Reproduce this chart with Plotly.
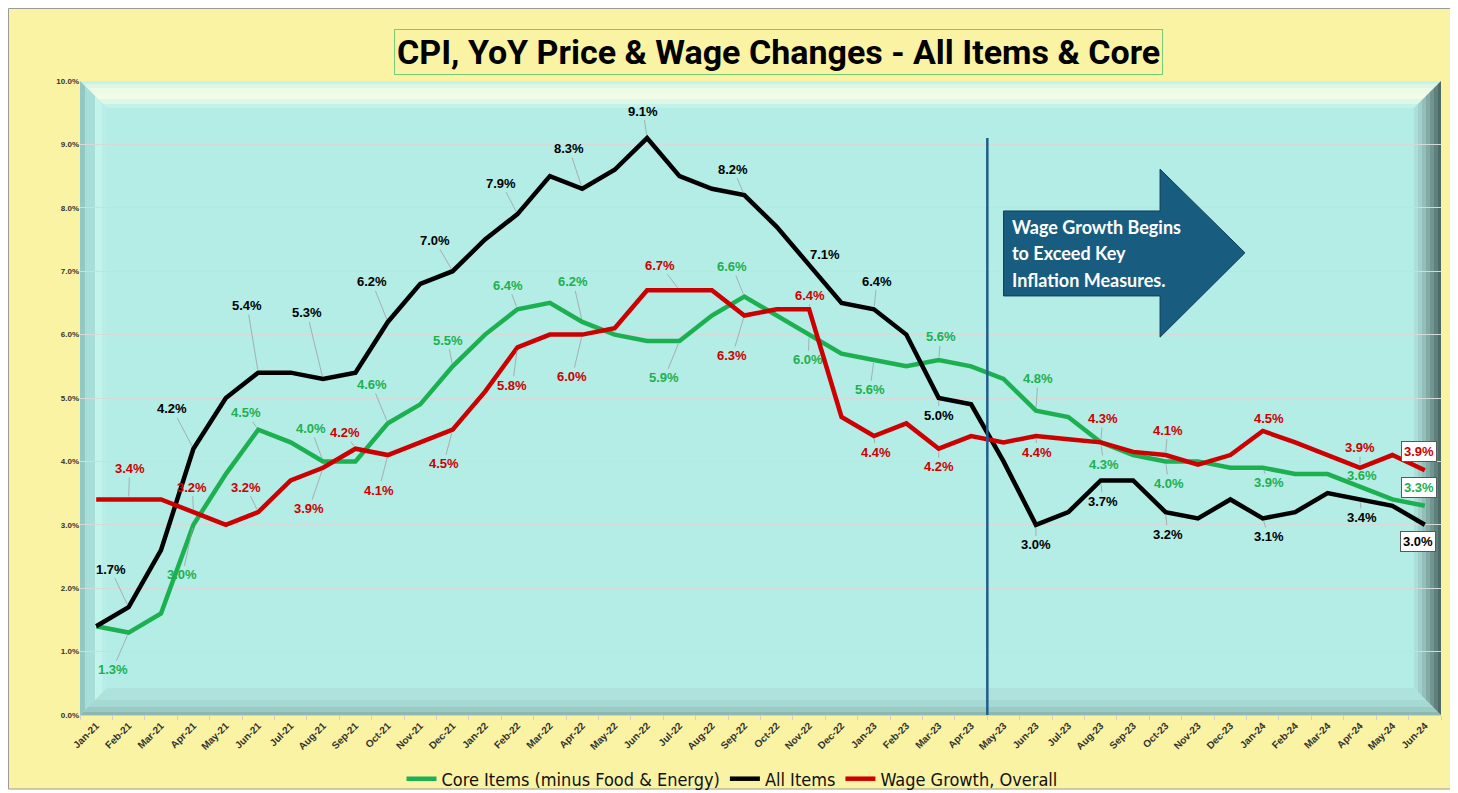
import plotly.graph_objects as go

# ---------------- data ----------------
months = ["Jan-21", "Feb-21", "Mar-21", "Apr-21", "May-21", "Jun-21", "Jul-21", "Aug-21", "Sep-21", "Oct-21", "Nov-21", "Dec-21",
          "Jan-22", "Feb-22", "Mar-22", "Apr-22", "May-22", "Jun-22", "Jul-22", "Aug-22", "Sep-22", "Oct-22", "Nov-22", "Dec-22",
          "Jan-23", "Feb-23", "Mar-23", "Apr-23", "May-23", "Jun-23", "Jul-23", "Aug-23", "Sep-23", "Oct-23", "Nov-23", "Dec-23",
          "Jan-24", "Feb-24", "Mar-24", "Apr-24", "May-24", "Jun-24"]

core_items = [1.4, 1.3, 1.6, 3.0, 3.8, 4.5, 4.3, 4.0, 4.0, 4.6, 4.9, 5.5,
              6.0, 6.4, 6.5, 6.2, 6.0, 5.9, 5.9, 6.3, 6.6, 6.3, 6.0, 5.7,
              5.6, 5.5, 5.6, 5.5, 5.3, 4.8, 4.7, 4.3, 4.1, 4.0, 4.0, 3.9,
              3.9, 3.8, 3.8, 3.6, 3.4, 3.3]

all_items = [1.4, 1.7, 2.6, 4.2, 5.0, 5.4, 5.4, 5.3, 5.4, 6.2, 6.8, 7.0,
             7.5, 7.9, 8.5, 8.3, 8.6, 9.1, 8.5, 8.3, 8.2, 7.7, 7.1, 6.5,
             6.4, 6.0, 5.0, 4.9, 4.0, 3.0, 3.2, 3.7, 3.7, 3.2, 3.1, 3.4,
             3.1, 3.2, 3.5, 3.4, 3.3, 3.0]

wage_growth = [3.4, 3.4, 3.4, 3.2, 3.0, 3.2, 3.7, 3.9, 4.2, 4.1, 4.3, 4.5,
               5.1, 5.8, 6.0, 6.0, 6.1, 6.7, 6.7, 6.7, 6.3, 6.4, 6.4, 4.7,
               4.4, 4.6, 4.2, 4.4, 4.3, 4.4, 4.35, 4.3, 4.15, 4.1, 3.95, 4.1,
               4.48, 4.3, 4.1, 3.9, 4.1, 3.86]

series_names = ["Core Items (minus Food & Energy)", "All Items", "Wage Growth, Overall"]
title_text = "CPI, YoY Price & Wage Changes - All Items & Core"
arrow_lines = ["Wage Growth Begins", "to Exceed Key", "Inflation Measures."]
y_ticks = [0, 1, 2, 3, 4, 5, 6, 7, 8, 9, 10]

# ---------------- styling / label placement ----------------
GREEN = "#1DB050"
BLACK = "#000000"
RED = "#CC0000"
YELLOW = "#FAF3A4"
TEAL = "#B4ECE6"

# (month index, label dx px, label dy px)
label_pos = {
    "core": [(1, -16, 37), (3, -11, 50), (5, -12, -17), (7, -12, -33), (9, -16, -39), (11, -5, -26),
             (13, -9, -24), (15, -9, -40), (18, -15, 37), (20, -12, -30), (22, -1, 25), (24, -4, 30),
             (26, 2, -23), (29, 2, -32), (31, 3, 22), (33, 3, 22), (36, 6, 15), (39, 2, -11)],
    "all": [(1, -18, -38), (3, -21, -40), (5, -11, -67), (7, -16, -66), (9, -16, -40), (11, -18, -31),
            (13, -16, -31), (15, -13, -40), (17, -4, -27), (20, -11, -26), (22, 16, -10), (24, 3, -28),
            (26, 0, 17), (29, 0, 20), (31, 2, 21), (33, 2, 22), (36, 6, 18), (39, 2, 18)],
    "wage": [(1, 1, -31), (3, -1, -25), (5, -12, -25), (7, -14, 41), (8, -10, -16), (9, -9, 35),
             (11, -9, 34), (13, -5, 38), (15, -10, 42), (18, -19, -25), (20, -12, 40), (22, 1, -14),
             (24, 2, 16), (26, 0, 18), (29, 1, 16), (31, 2, -24), (33, 2, -25), (36, 6, -12), (39, 0, -20)],
}
end_label_pos = {"core": (-6, -18), "all": (-7, 17), "wage": (-6, -19)}

# The page body adds an 8 px offset; screen-space geometry (as in the reference) below.
OFF = 8
W, H = 1458 - OFF, 793 - OFF
SL, SR, ST, SB = 80, 1441, 81, 715   # plot area on screen


def px(x):
    return (x - SL) / (SR - SL)


def py(y):
    return (SB - y) / (SB - ST)


def poly(pts):
    return "M " + " L ".join(f"{px(a):.5f},{py(b):.5f}" for a, b in pts) + " Z"


fig = go.Figure()

series = [("core", series_names[0], core_items, GREEN),
          ("all", series_names[1], all_items, BLACK),
          ("wage", series_names[2], wage_growth, RED)]

for key, name, vals, col in series:
    fig.add_trace(go.Scatter(x=months, y=vals, name=name, mode="lines",
                             line=dict(color=col, width=4.5),
                             hovertemplate="%{x}: %{y:.1f}%<extra>" + name + "</extra>"))

shapes = []
# page background with frame
shapes.append(dict(type="rect", xref="paper", yref="paper", x0=px(8.5), x1=px(1453), y0=py(789), y1=py(8.5),
                   fillcolor=YELLOW, line=dict(color="#9A9A9A", width=1), layer="below"))
# plot background
shapes.append(dict(type="rect", xref="paper", yref="paper", x0=0, x1=1, y0=0, y1=1,
                   fillcolor=TEAL, line=dict(width=0), layer="below"))

# bevel stripes (depth from edge in px)
top_band = [(0, 3, "#C9F2E4"), (3, 7, "#DDF7E7"), (7, 12, "#EDFAE6"), (12, 18, "#F2FBE6"),
            (18, 23, "#DDF7E9"), (23, 27, "#C4F1E8")]
left_band = [(0, 5, "#92C8C3"), (5, 15, "#A8DED8"), (15, 22, "#C3F4EB"), (22, 27, "#B8EEE7")]
bottom_band = [(0, 3, "#8DB7B2"), (3, 8, "#9BCAC5"), (8, 15, "#A6D9D3"), (15, 27, "#AEE3DD")]
right_band = [(0, 3, "#4D6A67"), (3, 7, "#5F807D"), (7, 11, "#71958F"), (11, 15, "#83AAA5"),
              (15, 19, "#93BEB9"), (19, 23, "#A1D0CA"), (23, 27, "#ABDFD9")]

for d0, d1, c in top_band:
    shapes.append(dict(type="path", xref="paper", yref="paper", layer="below", fillcolor=c, line=dict(width=0),
                       path=poly([(SL + d0, ST + d0), (SR - d0, ST + d0), (SR - d1, ST + d1), (SL + d1, ST + d1)])))
for d0, d1, c in left_band:
    shapes.append(dict(type="path", xref="paper", yref="paper", layer="below", fillcolor=c, line=dict(width=0),
                       path=poly([(SL + d0, ST + d0), (SL + d0, SB - d0), (SL + d1, SB - d1), (SL + d1, ST + d1)])))
for d0, d1, c in bottom_band:
    shapes.append(dict(type="path", xref="paper", yref="paper", layer="below", fillcolor=c, line=dict(width=0),
                       path=poly([(SL + d0, SB - d0), (SR - d0, SB - d0), (SR - d1, SB - d1), (SL + d1, SB - d1)])))
for d0, d1, c in right_band:
    shapes.append(dict(type="path", xref="paper", yref="paper", layer="below", fillcolor=c, line=dict(width=0),
                       path=poly([(SR - d0, ST + d0), (SR - d0, SB - d0), (SR - d1, SB - d1), (SR - d1, ST + d1)])))

# vertical divider (between Apr-23 and May-23)
shapes.append(dict(type="line", xref="x", yref="y", x0=27.5, x1=27.5, y0=0, y1=9.1,
                   line=dict(color="#1F5E8A", width=2.5), layer="above"))

# block arrow (data coordinates)
arrow_pts = [(28.0, 7.95), (32.83, 7.95), (32.83, 8.61), (35.45, 7.29), (32.83, 5.96), (32.83, 6.61), (28.0, 6.61)]
shapes.append(dict(type="path", xref="x", yref="y", layer="above", fillcolor="#185C7F",
                   line=dict(color="#0F3F58", width=1),
                   path="M " + " L ".join(f"{a},{b}" for a, b in arrow_pts) + " Z"))

annotations = []
# title
annotations.append(dict(xref="paper", yref="paper", x=px(778), y=py(51.5), xanchor="center", yanchor="middle",
                        text="<b>" + title_text + "</b>", showarrow=False,
                        font=dict(family="Roboto, Liberation Sans, sans-serif", size=34, color="#000000"),
                        bordercolor="#77CC77", borderwidth=1, borderpad=2, bgcolor=YELLOW))

# arrow text
for i, (line_txt, yv) in enumerate(zip(arrow_lines, [7.70, 7.29, 6.86])):
    annotations.append(dict(xref="x", yref="y", x=28.2, y=yv, xanchor="left", yanchor="middle",
                            text="<b>" + line_txt + "</b>", showarrow=False,
                            font=dict(family="Lato, Open Sans, sans-serif", size=18, color="#FFFFFF")))

# data labels
lookup = {"core": (core_items, GREEN), "all": (all_items, BLACK), "wage": (wage_growth, RED)}
for key, specs in label_pos.items():
    vals, col = lookup[key]
    for idx, dx, dy in specs:
        annotations.append(dict(xref="x", yref="y", x=idx, y=vals[idx], ax=dx, ay=dy,
                                text=f"<b>{vals[idx]:.1f}%</b>", showarrow=True, arrowhead=0,
                                arrowwidth=0.8, arrowcolor="#A0A0A0", standoff=3,
                                font=dict(family="Liberation Sans, Arial, sans-serif", size=13, color=col)))
    dx, dy = end_label_pos[key]
    last = len(vals) - 1
    annotations.append(dict(xref="x", yref="y", x=last, y=vals[last],
                            text=f"<b>{vals[last]:.1f}%</b>", showarrow=False,
                            xshift=dx, yshift=-dy, bgcolor="#FFFFFF", bordercolor="#595959", borderwidth=1,
                            borderpad=2,
                            font=dict(family="Liberation Sans, Arial, sans-serif", size=13, color=col)))

fig.update_layout(
    width=W, height=H,
    margin=dict(l=SL - OFF, r=W - (SR - OFF), t=ST - OFF, b=H - (SB - OFF), autoexpand=False),
    paper_bgcolor="#FFFFFF",
    plot_bgcolor="rgba(0,0,0,0)",
    shapes=shapes,
    annotations=annotations,
    showlegend=True,
    legend=dict(orientation="h", x=px(732), y=py(779), xanchor="center", yanchor="middle",
                bgcolor="rgba(0,0,0,0)",
                font=dict(family="Liberation Sans Narrow, DejaVu Sans Condensed, Arial Narrow, sans-serif",
                          size=18, color="#111111")),
    hovermode="closest",
)

fig.update_xaxes(type="category", categoryorder="array", categoryarray=months,
                 range=[-0.5, len(months) - 0.5], automargin=False,
                 tickangle=-45, tickson="boundaries", ticks="outside", ticklen=4, tickcolor="#D0D0D0",
                 showline=True, linecolor="#D0D0D0", linewidth=1, showgrid=False,
                 tickfont=dict(family="Liberation Sans, Arial, sans-serif", size=10, color="#333333", weight="bold"))

fig.update_yaxes(range=[0, 10], tickvals=y_ticks, ticktext=[f"{v:.1f}%" for v in y_ticks], automargin=False,
                 showgrid=True, gridcolor="#D3DADA", gridwidth=1, zeroline=False, showline=False,
                 ticks="", tickfont=dict(family="Liberation Sans, Arial, sans-serif", size=8, color="#333333",
                                         weight="bold"))

fig.write_html("out.html")
